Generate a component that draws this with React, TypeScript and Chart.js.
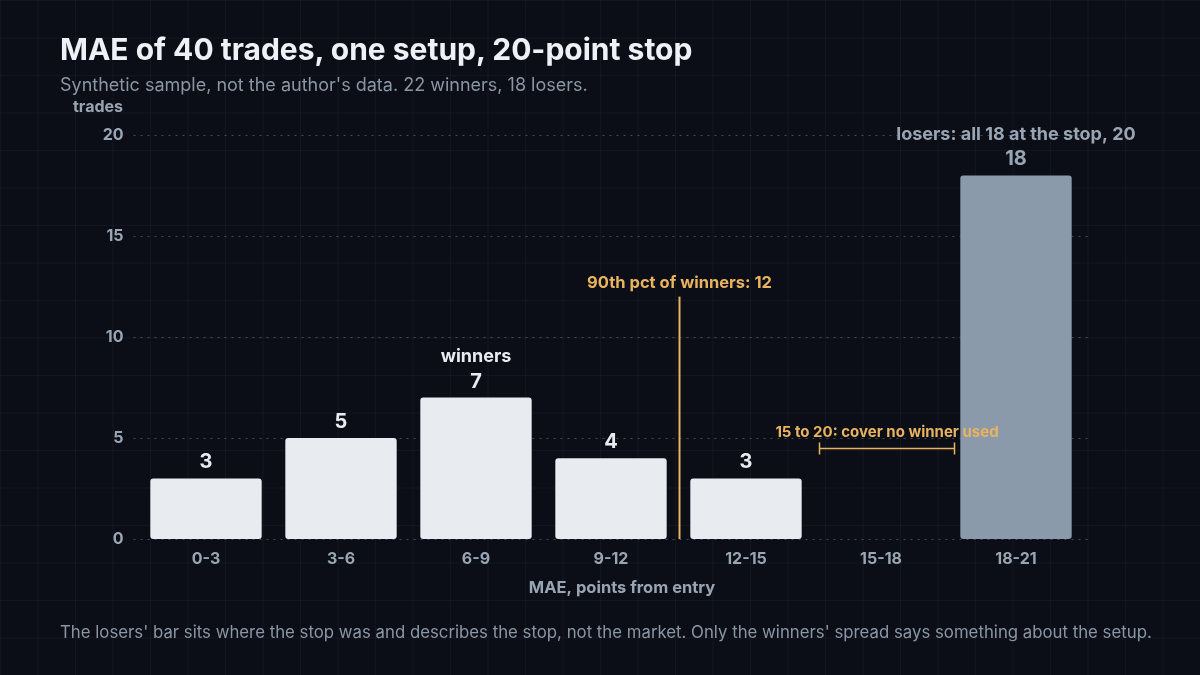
import React, { useEffect, useRef } from 'react';
import { Chart, registerables } from 'chart.js';

Chart.register(...registerables);

// MAE buckets, 3 points wide
const buckets = ['0-3', '3-6', '6-9', '9-12', '12-15', '15-18', '18-21'];
const winners = [3, 5, 7, 4, 3, 0, 0];
const losers = [0, 0, 0, 0, 0, 0, 18];
const yTicks = [0, 5, 10, 15, 20];
const bucketSize = 3;
const winnersP90 = 12;
const unusedRange = [15, 18];
const unusedLevel = 4.5;

const FONT = 'Inter, "Noto Sans", sans-serif';
const WIN_COLOR = '#e8ebf0';
const LOSE_COLOR = '#8b9aab';
const ORANGE = '#e9b35f';
const MUTED = '#9aa5b4';

// dotted horizontal grid, a bit wider than the category area
const gridPlugin = {
  id: 'dottedGrid',
  beforeDatasetsDraw(chart: any) {
    const { ctx, chartArea } = chart;
    const y = chart.scales.y;
    ctx.save();
    ctx.strokeStyle = 'rgba(125,136,152,0.5)';
    ctx.lineWidth = 1;
    ctx.setLineDash([2, 5]);
    yTicks.forEach((v) => {
      const py = Math.round(y.getPixelForValue(v)) + 0.5;
      ctx.beginPath();
      ctx.moveTo(chartArea.left - 5, py);
      ctx.lineTo(chartArea.right + 8, py);
      ctx.stroke();
    });
    ctx.restore();
  },
};

const annotations = {
  id: 'annotations',
  afterDatasetsDraw(chart: any) {
    const { ctx, chartArea } = chart;
    const x = chart.scales.x;
    const y = chart.scales.y;
    const maePx = (v: number) => x.getPixelForValue(v / bucketSize - 0.5);

    ctx.save();
    ctx.textAlign = 'center';
    ctx.textBaseline = 'middle';

    // bar value labels
    const sets = [
      { data: winners, meta: chart.getDatasetMeta(0), color: WIN_COLOR, label: 'winners' },
      { data: losers, meta: chart.getDatasetMeta(1), color: MUTED, label: 'losers: all 18 at the stop, 20' },
    ];
    sets.forEach((s) => {
      let top = -1;
      s.data.forEach((v, i) => {
        if (!v) return;
        const bar = s.meta.data[i];
        ctx.fillStyle = s.color;
        ctx.font = `700 20px ${FONT}`;
        ctx.fillText(String(v), bar.x, bar.y - 16);
        if (top < 0 || v > s.data[top]) top = i;
      });
      if (top >= 0) {
        const bar = s.meta.data[top];
        ctx.font = `700 18px ${FONT}`;
        ctx.fillStyle = s.color;
        ctx.fillText(s.label, bar.x, bar.y - 41);
      }
    });

    // 90th percentile line
    const px = Math.round(maePx(winnersP90)) + 0.5;
    const pTop = y.getPixelForValue(winnersP90);
    ctx.strokeStyle = ORANGE;
    ctx.lineWidth = 2;
    ctx.beginPath();
    ctx.moveTo(px, pTop);
    ctx.lineTo(px, y.getPixelForValue(0));
    ctx.stroke();
    ctx.fillStyle = ORANGE;
    ctx.font = `700 16.5px ${FONT}`;
    ctx.fillText(`90th pct of winners: ${winnersP90}`, px, pTop - 14);

    // unused cover bracket
    const bx0 = maePx(unusedRange[0]) + 6;
    const bx1 = maePx(unusedRange[1]) + 6;
    const by = Math.round(y.getPixelForValue(unusedLevel)) + 0.5;
    ctx.lineWidth = 1.5;
    ctx.beginPath();
    ctx.moveTo(bx0, by);
    ctx.lineTo(bx1, by);
    ctx.moveTo(bx0, by - 6);
    ctx.lineTo(bx0, by + 6);
    ctx.moveTo(bx1, by - 6);
    ctx.lineTo(bx1, by + 6);
    ctx.stroke();
    ctx.font = `700 15px ${FONT}`;
    ctx.fillText('15 to 20: cover no winner used', (bx0 + bx1) / 2, by - 16);

    // axis captions
    ctx.fillStyle = MUTED;
    ctx.font = `700 16.5px ${FONT}`;
    ctx.fillText('MAE, points from entry', (chartArea.left + chartArea.right) / 2 + 11, 588);
    ctx.font = `700 16px ${FONT}`;
    ctx.textAlign = 'right';
    ctx.fillText('trades', 123, 107);
    ctx.restore();
  },
};

const MaeChart: React.FC = () => {
  const chartRef = useRef<HTMLCanvasElement | null>(null);
  const chartInstance = useRef<Chart | null>(null);

  useEffect(() => {
    if (!chartRef.current) return;
    if (chartInstance.current) chartInstance.current.destroy();

    chartInstance.current = new Chart(chartRef.current, {
      type: 'bar',
      data: {
        labels: buckets,
        datasets: [
          {
            label: 'winners',
            data: winners,
            backgroundColor: WIN_COLOR,
            borderRadius: 3,
            borderSkipped: false,
            barPercentage: 0.825,
            categoryPercentage: 1,
          },
          {
            label: 'losers',
            data: losers,
            backgroundColor: LOSE_COLOR,
            borderRadius: 3,
            borderSkipped: false,
            barPercentage: 0.825,
            categoryPercentage: 1,
          },
        ],
      },
      options: {
        responsive: false,
        animation: false,
        layout: { padding: { left: 0, right: 116.5, top: 135, bottom: 66 } },
        plugins: {
          legend: { display: false },
          tooltip: { enabled: false },
        },
        scales: {
          x: {
            stacked: true,
            grid: { display: false, drawTicks: false },
            border: { display: false },
            ticks: {
              color: MUTED,
              font: { family: FONT, size: 16, weight: 'bold' },
              padding: 11,
            },
            afterFit: (scale: any) => {
              scale.height = 70;
            },
          },
          y: {
            stacked: true,
            min: 0,
            max: 20,
            afterBuildTicks: (scale: any) => {
              scale.ticks = yTicks.map((v) => ({ value: v }));
            },
            grid: { display: false, drawTicks: false },
            border: { display: false },
            ticks: {
              color: MUTED,
              font: { family: FONT, size: 16, weight: 'bold' },
              padding: 15,
            },
            afterFit: (scale: any) => {
              scale.width = 138.5;
            },
          },
        },
      },
      plugins: [gridPlugin, annotations],
    });

    return () => {
      if (chartInstance.current) {
        chartInstance.current.destroy();
        chartInstance.current = null;
      }
    };
  }, []);

  return (
    <canvas
      ref={chartRef}
      width={1200}
      height={675}
      style={{ position: 'absolute', left: 0, top: 0, width: 1200, height: 675 }}
    />
  );
};

const gridLine = 'rgba(255,255,255,0.035)';

const App: React.FC = () => {
  return (
    <div
      style={{
        position: 'fixed',
        left: 0,
        top: 0,
        width: 1200,
        height: 675,
        overflow: 'hidden',
        backgroundColor: '#0b0e16',
        backgroundImage: `linear-gradient(to right, ${gridLine} 1px, transparent 1px), linear-gradient(to bottom, ${gridLine} 1px, transparent 1px)`,
        backgroundSize: '37.5px 37.5px',
        fontFamily: FONT,
      }}
    >
      <MaeChart />
      <div
        style={{
          position: 'absolute',
          left: 60,
          top: 30,
          fontSize: 30,
          fontWeight: 700,
          color: '#eef1f6',
          lineHeight: '38px',
          whiteSpace: 'nowrap',
        }}
      >
        MAE of 40 trades, one setup, 20-point stop
      </div>
      <div
        style={{
          position: 'absolute',
          left: 60,
          top: 74,
          fontSize: 18,
          color: '#8b96a5',
          lineHeight: '22px',
          whiteSpace: 'nowrap',
        }}
      >
        Synthetic sample, not the author's data. 22 winners, 18 losers.
      </div>
      <div
        style={{
          position: 'absolute',
          left: 60,
          top: 621,
          fontSize: 16.8,
          color: '#8b96a5',
          lineHeight: '22px',
          whiteSpace: 'nowrap',
        }}
      >
        The losers' bar sits where the stop was and describes the stop, not the market. Only the winners' spread says something about the setup.
      </div>
    </div>
  );
};

export default App;
